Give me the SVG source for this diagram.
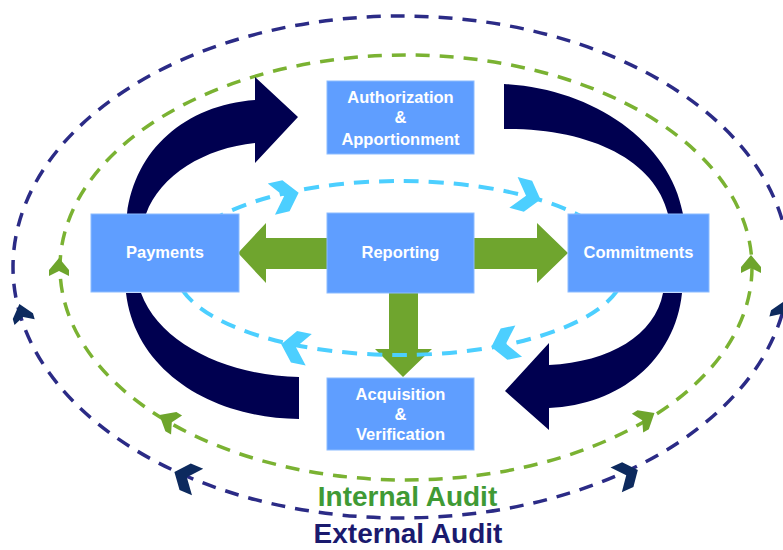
<svg xmlns="http://www.w3.org/2000/svg" xmlns:xlink="http://www.w3.org/1999/xlink" width="783" height="550" viewBox="0 0 783 550">
<style>
.box{fill:#5f9eff;stroke:#8cbcff;stroke-width:1}
.lbl{font-family:"Liberation Sans",Arial,sans-serif;font-weight:bold;font-size:16.5px;fill:#ffffff;text-anchor:middle}
.big{font-family:"Liberation Sans",Arial,sans-serif;font-weight:bold;font-size:28px;text-anchor:middle}
.outer{fill:none;stroke:#2b2b86;stroke-width:3.5;stroke-dasharray:14 10}
.mid{fill:none;stroke:#7ab232;stroke-width:3.5;stroke-dasharray:14 10}
.inner{fill:none;stroke:#4ccfff;stroke-width:4;stroke-dasharray:15 10}
.navy{fill:#000050}
.garrow{fill:#6fa52e}
.cOut{fill:#0d2a5e}
.cMid{fill:#6ea52c}
.cIn{fill:#4ccfff}
</style>
<defs>
<path id="chev" d="M-14,-16 L1,-16 L14,0 L1,16 L-14,16 L-1,0 Z"/>
<path id="head" d="M9,0 L-3,-10 L-9,-10 L-4,0 L-9,10 L-3,10 Z"/>
</defs>
<rect width="783" height="550" fill="#ffffff"/>
<g id="connectors">
  <g id="external-audit-loop">
    <ellipse class="outer" cx="401" cy="267" rx="388" ry="251"/>
    <use xlink:href="#head" class="cOut" transform="translate(22,313) rotate(-106) scale(1.05)"/>
    <use xlink:href="#head" class="cOut" transform="translate(782,310) rotate(-75) scale(1.05)"/>
    <use xlink:href="#chev" class="cOut" transform="translate(186,477) rotate(203) scale(0.9)"/>
    <use xlink:href="#chev" class="cOut" transform="translate(627,475) rotate(-24.5) scale(0.85)"/>
  </g>
  <g id="internal-audit-loop">
    <ellipse class="mid" cx="406" cy="267.5" rx="346" ry="212.5"/>
    <use xlink:href="#head" class="cMid" transform="translate(59,267) rotate(-90)"/>
    <use xlink:href="#head" class="cMid" transform="translate(751,264) rotate(-90)"/>
    <use xlink:href="#head" class="cMid" transform="translate(168,420) rotate(210) scale(1.1)"/>
    <use xlink:href="#head" class="cMid" transform="translate(646,418) rotate(-31) scale(1.1)"/>
  </g>
  <g id="cycle-arrows">
    <path class="navy" d="M127,214 C135,150 185,105 255,100 L255,77 L298,117 L255,163 L255,143 C205,148 160,175 146,214 Z"/>
    <path class="navy" d="M504,84 C590,88 670,140 683,214 L668,214 C655,160 590,128 504,129 Z"/>
    <path class="navy" d="M682,293 C675,360 620,405 549,408 L549,430 L505,391 L549,343 L549,365 C610,362 655,335 663,293 Z"/>
    <path class="navy" d="M126,293 C135,370 210,418 299,419 L299,377 C230,376 160,345 141,293 Z"/>
  </g>
  <g id="reporting-arrows">
    <polygon class="garrow" points="238,253 266,223 266,238 327,238 327,269 266,269 266,283"/>
    <polygon class="garrow" points="474,238 537,238 537,223 568,253 537,283 537,269 474,269"/>
    <polygon class="garrow" points="389,292 418,292 418,349 432,349 403,377 375,349 389,349"/>
  </g>
  <g id="inner-loop">
    <ellipse class="inner" cx="400" cy="268" rx="225" ry="87"/>
    <use xlink:href="#chev" class="cIn" transform="translate(285,196) rotate(-13)"/>
    <use xlink:href="#chev" class="cIn" transform="translate(527,196) rotate(15)"/>
    <use xlink:href="#chev" class="cIn" transform="translate(295,347) rotate(191)"/>
    <use xlink:href="#chev" class="cIn" transform="translate(505,344) rotate(168)"/>
  </g>
</g>
<g id="node-authorization">
  <rect class="box" x="327" y="81" width="147" height="73"/>
  <text class="lbl" x="400.5" y="103">Authorization</text>
  <text class="lbl" x="400.5" y="123">&amp;</text>
  <text class="lbl" x="400.5" y="145">Apportionment</text>
</g>
<g id="node-payments">
  <rect class="box" x="91" y="214" width="148" height="78"/>
  <text class="lbl" x="165" y="258">Payments</text>
</g>
<g id="node-reporting">
  <rect class="box" x="327" y="213" width="147" height="80"/>
  <text class="lbl" x="400.5" y="258">Reporting</text>
</g>
<g id="node-commitments">
  <rect class="box" x="568" y="214" width="141" height="78"/>
  <text class="lbl" x="638.5" y="258">Commitments</text>
</g>
<g id="node-acquisition">
  <rect class="box" x="327" y="378" width="147" height="72"/>
  <text class="lbl" x="400.5" y="400">Acquisition</text>
  <text class="lbl" x="400.5" y="420">&amp;</text>
  <text class="lbl" x="400.5" y="440">Verification</text>
</g>
<g id="labels">
  <text class="big" x="407.5" y="506" fill="#3f9a35">Internal Audit</text>
  <text class="big" x="408" y="543" fill="#1a1a6e">External Audit</text>
</g>
</svg>
